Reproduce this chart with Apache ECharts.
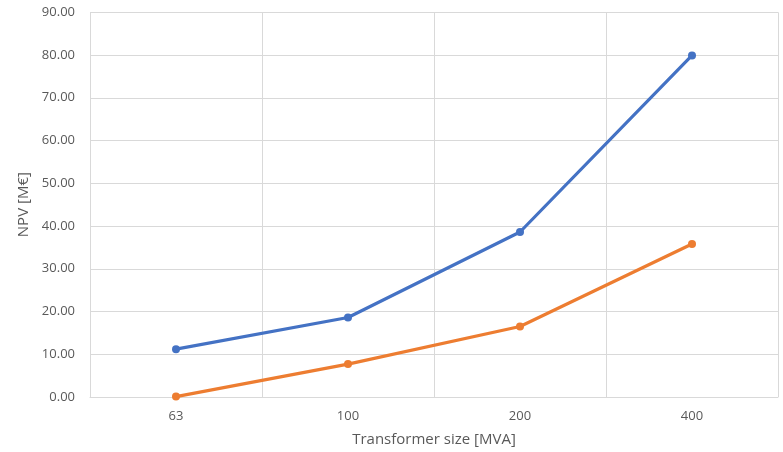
<!DOCTYPE html>
<html>
<head>
<meta charset="utf-8">
<script src="https://cdn.jsdelivr.net/npm/echarts@6/dist/echarts.min.js"></script>
<style>
  html, body { margin: 0; padding: 0; background: #fff; }
  #chart { width: 783px; height: 452px; }
</style>
</head>
<body>
<div id="chart"></div>
<script>
// Transformer sizes on the x axis
const sizes = ['63', '100', '200', '400'];
// Net present value per transformer size, two scenarios
const npvUpper = [11.2, 18.6, 38.6, 79.9];
const npvLower = [0.1, 7.7, 16.5, 35.8];

const FONT = '"Open Sans", sans-serif';
const TEXT = '#595959';
const GRID = '#d9d9d9';

const chart = echarts.init(document.getElementById('chart'), null, { renderer: 'canvas' });

chart.setOption({
  animation: false,
  backgroundColor: '#ffffff',
  grid: { left: 90, right: 5, top: 12.3, bottom: 54.7, containLabel: false },
  xAxis: {
    type: 'category',
    data: sizes,
    boundaryGap: true,
    name: 'Transformer size [MVA]',
    nameLocation: 'middle',
    nameGap: 35,
    nameTextStyle: { color: TEXT, fontFamily: FONT, fontSize: 15 },
    axisLine: { show: true, lineStyle: { color: GRID, width: 1 } },
    axisTick: { show: false },
    axisLabel: { color: TEXT, fontFamily: FONT, fontSize: 13, margin: 13 },
    splitLine: { show: true, lineStyle: { color: GRID, width: 1 } }
  },
  yAxis: {
    type: 'value',
    min: 0,
    max: 90,
    interval: 10,
    name: 'NPV [M€]',
    nameLocation: 'middle',
    nameGap: 57,
    nameTextStyle: { color: TEXT, fontFamily: FONT, fontSize: 15 },
    axisLine: { show: false },
    axisTick: { show: false },
    axisLabel: {
      color: TEXT, fontFamily: FONT, fontSize: 13, margin: 15,
      formatter: v => v.toFixed(2)
    },
    splitLine: { show: true, lineStyle: { color: GRID, width: 1 } }
  },
  series: [
    {
      type: 'line',
      data: npvUpper,
      symbol: 'circle',
      symbolSize: 8,
      lineStyle: { color: '#4472C4', width: 3.2 },
      itemStyle: { color: '#4472C4' }
    },
    {
      type: 'line',
      data: npvLower,
      symbol: 'circle',
      symbolSize: 8,
      lineStyle: { color: '#ED7D31', width: 3.2 },
      itemStyle: { color: '#ED7D31' }
    }
  ]
});
</script>
</body>
</html>
